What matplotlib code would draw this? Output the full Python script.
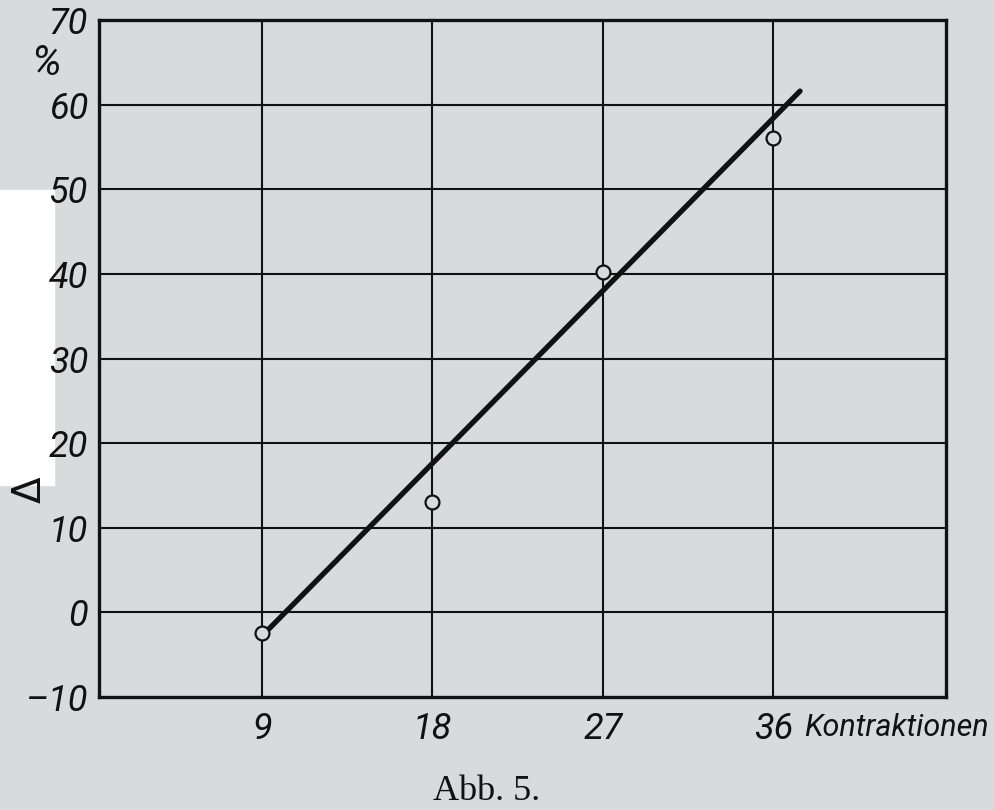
import matplotlib
matplotlib.use("Agg")
import matplotlib.pyplot as plt
from matplotlib.patches import Rectangle

# ── data ─────────────────────────────────────────────────────────────────────
kontraktionen = [9, 18, 27, 36]
delta_pct     = [-2.4, 13.1, 40.2, 56.0]
fit_x         = [9.35, 37.4]
fit_y         = [-2.0, 61.6]
x_ticks       = [9, 18, 27, 36]
x_labels      = ["9", "18", "27", "36"]
y_ticks       = [-10, 0, 10, 20, 30, 40, 50, 60, 70]
y_labels      = ["\u201310", "0", "10", "20", "30", "40", "50", "60", "70"]

PAPER = "#d9dadc"
INK   = "#111111"
FAM = ["Roboto", "DejaVu Sans"]
TICKFONT = dict(family=FAM, style="italic", size=26)

fig = plt.figure(figsize=(9.94, 8.10), dpi=100, facecolor=PAPER)
ax = fig.add_axes([0.0996, 0.1395, 0.852, 0.8358])
ax.set_facecolor(PAPER)

# grid every 9 contractions / 10 %
ax.set_xlim(0.4, 45.1)
ax.set_ylim(-10, 69.8)
for gx in [9, 18, 27, 36]:
    ax.axvline(gx, color=INK, lw=1.5, zorder=1)
for gy in [0, 10, 20, 30, 40, 50, 60]:
    ax.axhline(gy, color=INK, lw=1.5, zorder=1)
for s in ax.spines.values():
    s.set_linewidth(2.4)
    s.set_color(INK)

ax.plot(fit_x, fit_y, color=INK, lw=3.8, solid_capstyle="round", zorder=3)
ax.plot(kontraktionen, delta_pct, ls="none", marker="o", ms=10,
        mfc=PAPER, mec=INK, mew=1.6, zorder=4)

ax.set_xticks(x_ticks)
ax.set_xticklabels(x_labels, **TICKFONT)
ax.set_yticks(y_ticks)
ax.set_yticklabels(y_labels, **TICKFONT)
ax.tick_params(length=0, pad=8, colors=INK)
ax.tick_params(axis="x", pad=10)

ax.text(37.6, -13.6, "Kontraktionen", ha="left", va="center", color=INK,
        family=FAM, style="italic", size=22)
ax.text(-1.6, 64.9, "%", ha="right", va="center", color=INK,
        family=FAM, style="italic", size=30)

# white patch of the scan and the Δ label
fig.patches.append(Rectangle((0, 1 - 485/810), 54/994, 295/810,
                             transform=fig.transFigure, color="white", zorder=-1))
fig.text(30/994, 1 - 490/810, "\u0394", rotation=90, ha="center", va="center",
         fontsize=28, color=INK, family="DejaVu Sans")

fig.text(0.49, 1 - 791/810, "Abb. 5.", ha="center", va="center",
         fontsize=26, color=INK, family="Liberation Serif")

fig.savefig("out.png", dpi=100, facecolor=PAPER)
